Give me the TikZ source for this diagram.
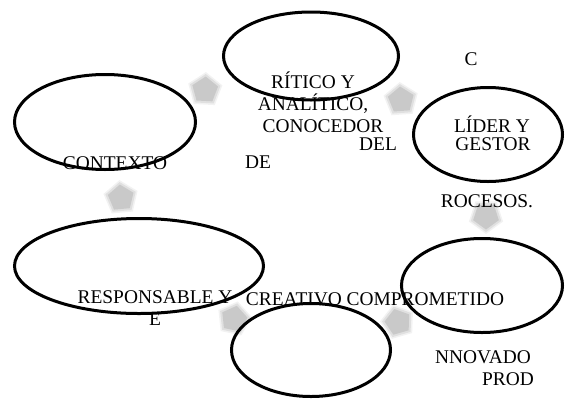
\documentclass[tikz,border=0pt]{standalone}
\usepackage{fontspec}
\setmainfont{Liberation Serif}
\usetikzlibrary{shapes.geometric}
\begin{document}
\begin{tikzpicture}[x=1pt,y=-1pt,
  bubble/.style={draw=black,line width=3pt,ellipse,inner sep=0pt},
  blob/.style={regular polygon,regular polygon sides=5,inner sep=0pt,minimum size=#1},
  lbl/.style={anchor=base,inner sep=0pt,font=\fontsize{19.4}{23}\selectfont}]
\useasboundingbox (0,0) rectangle (565,400);

\foreach \px/\py/\rot/\nm in {205/90/-75/ga,401/100/-140/gb,486/216/180/gc,398/322/160/gd,234/319/60/ge,121/198/5/gf}{
  \node[blob=36pt,fill=gray!10,rotate=\rot] at (\px,\py) {};
  \node[blob=32pt,fill=gray!24,rotate=\rot] at (\px,\py) {};
  \node[blob=27pt,fill=gray!42,rotate=\rot] (\nm) at (\px,\py) {};
}

\node[bubble,minimum width=175pt,minimum height=88pt] (critico) at (311,56) {};
\node[bubble,minimum width=181pt,minimum height=95pt] (contexto) at (105,122) {};
\node[bubble,minimum width=149pt,minimum height=94pt] (lider) at (488,134.5) {};
\node[bubble,minimum width=249pt,minimum height=95pt] (responsable) at (139,266) {};
\node[bubble,minimum width=161pt,minimum height=94pt] (innovador) at (482,285.5) {};
\node[bubble,minimum width=159pt,minimum height=93pt] (creativo) at (311,350) {};

\node[lbl] (t1) at (313,88) {RÍTICO Y};
\node[lbl] (t2) at (313,110) {ANALÍTICO,};
\node[lbl] (t3) at (323,132) {CONOCEDOR};
\node[lbl] (t4) at (378,150) {DEL};
\node[lbl] (t5) at (258,168) {DE};
\node[lbl] (t6) at (115,169) {CONTEXTO};
\node[lbl] (t7) at (471,65) {C};
\node[lbl] (t8) at (492,132) {LÍDER Y};
\node[lbl] (t9) at (493,150) {GESTOR};
\node[lbl] (t10) at (487,207) {ROCESOS.};
\node[lbl] (t11) at (155,303) {RESPONSABLE Y};
\node[lbl] (t12) at (155,325) {E};
\node[lbl] (t13) at (375,305) {CREATIVO COMPROMETIDO};
\node[lbl] (t14) at (483,363) {NNOVADO};
\node[lbl] (t15) at (508,385) {PROD};
\end{tikzpicture}
\end{document}
